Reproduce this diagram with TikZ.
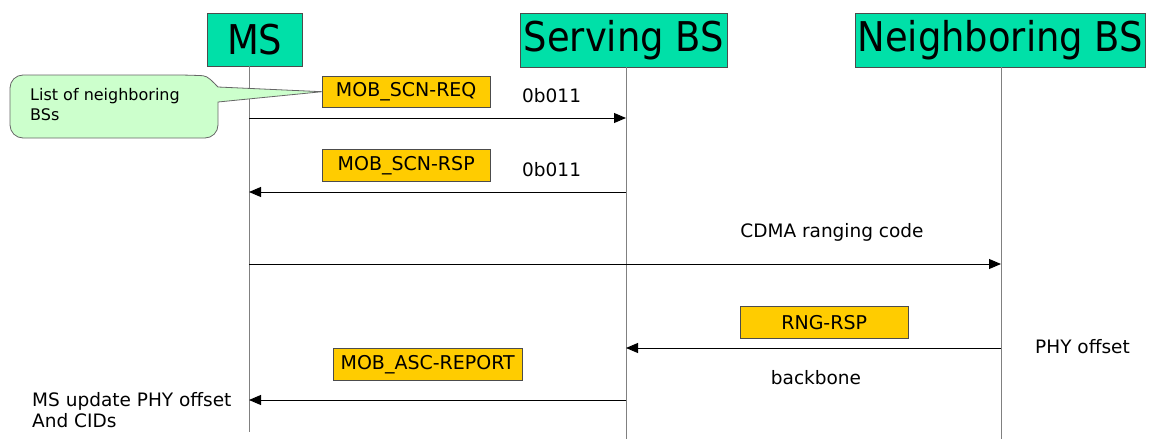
\documentclass[tikz,border=0pt]{standalone}
\usepackage{fontspec}
\setmainfont{DejaVu Sans}
\newfontfamily\hdrfont{DejaVu Sans Condensed}
\usetikzlibrary{arrows.meta}
\definecolor{hdrgreen}{RGB}{0,224,168}
\definecolor{lblyellow}{RGB}{255,204,0}
\definecolor{callgreen}{RGB}{204,255,204}
\definecolor{lifegray}{RGB}{128,128,128}
\tikzset{
  hdr/.style={draw=black!70, fill=hdrgreen, inner sep=0pt, font=\hdrfont\fontsize{41}{41}\selectfont, anchor=north west},
  lbl/.style={draw=black!70, fill=lblyellow, inner sep=0pt, font=\fontsize{19}{19}\selectfont, anchor=north west},
  txt/.style={font=\fontsize{18.5}{18.5}\selectfont, inner sep=0pt},
  life/.style={draw=lifegray, line width=1pt},
  msg/.style={draw=black, line width=0.9pt, -{Triangle[length=12pt,width=10pt]}},
}
\begin{document}
\begin{tikzpicture}[x=1pt,y=-1pt]
\useasboundingbox (0,0) rectangle (1149,439);
% headers
\node[hdr, minimum width=95pt, minimum height=53pt] (ms) at (207,13) {MS};
\node[hdr, minimum width=207pt, minimum height=54pt] (sbs) at (520,13) {Serving BS};
\node[hdr, minimum width=290pt, minimum height=54pt] (nbs) at (855,13) {Neighboring BS};
% lifeline ends
\coordinate (msend) at (249,432);
\coordinate (sbsend) at (626,439);
\coordinate (nbsend) at (1001,439);
\draw[life] (ms.south -| msend) -- (msend);
\draw[life] (sbs.south -| sbsend) -- (sbsend);
\draw[life] (nbs.south -| nbsend) -- (nbsend);
% labels
\node[lbl, minimum width=168pt, minimum height=31pt] (req) at (322,76) {MOB\_SCN-REQ};
\node[lbl, minimum width=168pt, minimum height=32pt] (rsp) at (322,149) {MOB\_SCN-RSP};
\node[lbl, minimum width=168pt, minimum height=32pt] (rng) at (740,306) {RNG-RSP};
\node[lbl, minimum width=189pt, minimum height=32pt] (asc) at (333,348) {MOB\_ASC-REPORT};
% callout
\draw[draw=black!60, fill=callgreen, line width=0.8pt]
  (218,102) [rounded corners=13pt] -- (218,138) -- (10,138) -- (10,75) -- (190,75)
  [sharp corners] .. controls (208,76) and (213,82) .. (218,87) -- (req.west) -- cycle;
\node[txt, anchor=north west, align=left, font=\fontsize{16}{20}\selectfont] (cl) at (30,88) {List of neighboring\\BSs};
% message endpoints
\coordinate (a1s) at (249,118); \coordinate (a1e) at (626,118);
\coordinate (a2s) at (626,192); \coordinate (a2e) at (249,192);
\coordinate (a3s) at (249,264); \coordinate (a3e) at (1001,264);
\coordinate (a4s) at (1001,348); \coordinate (a4e) at (626,348);
\coordinate (a5s) at (626,400); \coordinate (a5e) at (249,400);
\draw[msg] (a1s) -- (a1e);
\draw[msg] (a2s) -- (a2e);
\draw[msg] (a3s) -- (a3e);
\draw[msg] (a4s) -- (a4e);
\draw[msg] (a5s) -- (a5e);
% texts
\node[txt, anchor=west] (t1) at (522,96) {0b011};
\node[txt, anchor=west] (t2) at (522,170) {0b011};
\node[txt] (t3) at (832,232) {CDMA ranging code};
\node[txt] (t4) at (816,378) {backbone};
\node[txt, anchor=west] (t5) at (1035,347) {PHY offset};
\node[txt, anchor=west, align=left, font=\fontsize{18.5}{21}\selectfont] (t6) at (32,410) {MS update PHY offset\\And CIDs};
\end{tikzpicture}
\end{document}
